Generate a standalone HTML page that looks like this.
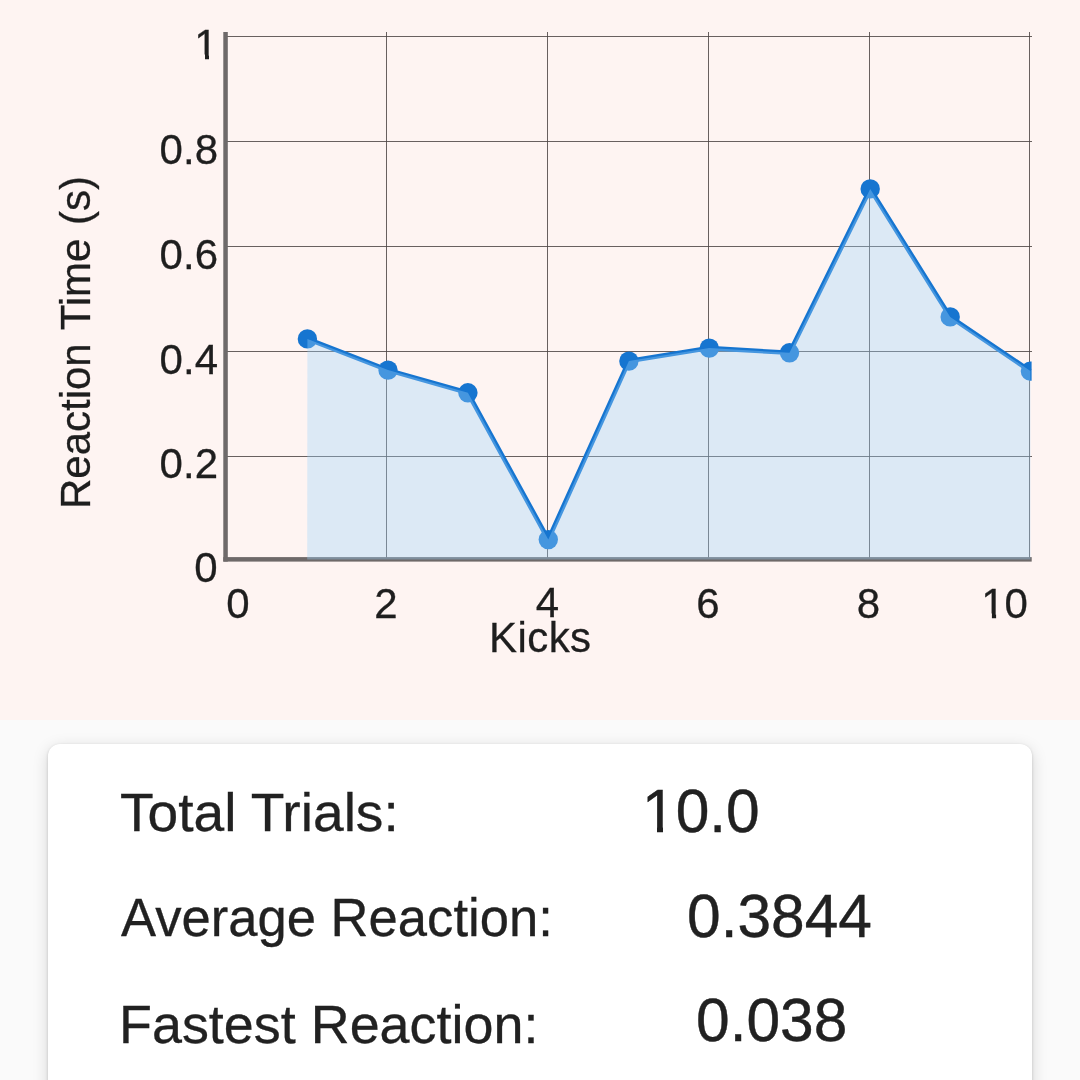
<!DOCTYPE html>
<html><head><meta charset="utf-8">
<style>
html,body{margin:0;padding:0;}
body{width:1080px;height:1080px;overflow:hidden;background:#FAFAFA;font-family:"Liberation Sans",sans-serif;position:relative;}
#chart{position:absolute;left:0;top:0;width:1080px;height:720px;background:#FEF4F2;}
#chart svg{position:absolute;left:0;top:0;}
#chart text{font-family:"Liberation Sans",sans-serif;font-size:42px;fill:#1e1e1e;stroke:#1e1e1e;stroke-width:0.3px;}
#card{position:absolute;left:48px;top:744px;width:984px;height:400px;background:#fff;border-radius:12px;box-shadow:0 4px 16px rgba(0,0,0,0.15),0 1px 3px rgba(0,0,0,0.17);}
.val{font-size:62px !important;transform:scaleX(0.9755);-webkit-text-stroke:0.4px #212121;}
.lbl{-webkit-text-stroke:0.3px #212121;}
.lbl,.val{position:absolute;font-size:53px;color:#212121;white-space:nowrap;line-height:60px;transform-origin:0 0;}
</style></head><body>
<div id="chart">
<svg width="1080" height="720" viewBox="0 0 1080 720">
<defs>
<clipPath id="plot"><rect x="223" y="20" width="808.6" height="542"/></clipPath>
</defs>
<path d="M226 36.5H1032M226 141.5H1032M226 246.5H1032M226 351.5H1032M226 456.5H1032M386.5 32V560M547.5 32V560M708.5 32V560M869.5 32V560M1029.5 32V560" stroke="#4e4545" stroke-opacity="0.85" stroke-width="1" fill="none"/>
<rect x="223.3" y="32" width="4.5" height="529.6" fill="#6E6969"/>
<rect x="223.3" y="557.1" width="808.4" height="4.5" fill="#6E6969"/>
<g clip-path="url(#plot)">
<polyline fill="none" stroke="#1675D0" stroke-width="4.6" stroke-linejoin="round" points="307.4,338.9 388,370.1 467.9,392.8 548.3,539.6 628.9,361.1 709.3,348.1 789.5,352.8 870.2,188.9 950.2,316.9 1030.4,371.1"/>
<g fill="#1675D0"><circle cx="307.4" cy="338.9" r="9.7"/><circle cx="388" cy="370.1" r="9.7"/><circle cx="467.9" cy="392.8" r="9.7"/><circle cx="548.3" cy="539.6" r="9.7"/><circle cx="628.9" cy="361.1" r="9.7"/><circle cx="709.3" cy="348.1" r="9.7"/><circle cx="789.5" cy="352.8" r="9.7"/><circle cx="870.2" cy="188.9" r="9.7"/><circle cx="950.2" cy="316.9" r="9.7"/><circle cx="1030.4" cy="371.1" r="9.7"/></g>
<polygon fill="rgba(157,211,253,0.35)" points="307.4,338.9 388,370.1 467.9,392.8 548.3,539.6 628.9,361.1 709.3,348.1 789.5,352.8 870.2,188.9 950.2,316.9 1030.4,371.1 1030.4,559.5 307.2,559.5"/>
</g>
<g text-anchor="end">
<text x="217.5" y="59">1</text>
<text x="218" y="164">0.8</text>
<text x="218" y="269">0.6</text>
<text x="218" y="374">0.4</text>
<text x="218" y="478">0.2</text>
<text x="217.5" y="582">0</text>
</g>
<g text-anchor="middle">
<text x="238" y="618">0</text>
<text x="386" y="618">2</text>
<text x="547.5" y="617">4</text>
<text x="708" y="618">6</text>
<text x="868.5" y="618">8</text>
<text x="1004.5" y="618">10</text>
<text x="540.3" y="652" style="letter-spacing:0.4px">Kicks</text>
</g>
<g fill="#FEF4F2"><rect x="196" y="54.5" width="9" height="6"/><rect x="209" y="54.5" width="9" height="6"/><rect x="982.5" y="613.5" width="9.4" height="6"/><rect x="996.1" y="613.5" width="8.4" height="6"/></g>
<text transform="translate(90,342.5) rotate(-90)" text-anchor="middle" style="word-spacing:2px">Reaction Time (s)</text>
</svg>
</div>
<div id="card">
<div class="lbl" style="left:72.3px;top:39px;transform:scaleX(1.04);">Total Trials:</div>
<div class="val" style="left:594.2px;top:37.1px;">10.0</div>
<div style="position:absolute;left:596.5px;top:82.3px;width:12.5px;height:8px;background:#fff"></div><div style="position:absolute;left:615.2px;top:82.3px;width:12.5px;height:8px;background:#fff"></div>
<div class="lbl" style="left:73.3px;top:144px;transform:scaleX(0.9926);">Average Reaction:</div>
<div class="val" style="left:639px;top:141.7px;">0.3844</div>
<div class="lbl" style="left:71px;top:251px;transform:scaleX(1.017);">Fastest Reaction:</div>
<div class="val" style="left:648px;top:246.1px;">0.038</div>
</div>
</body></html>
